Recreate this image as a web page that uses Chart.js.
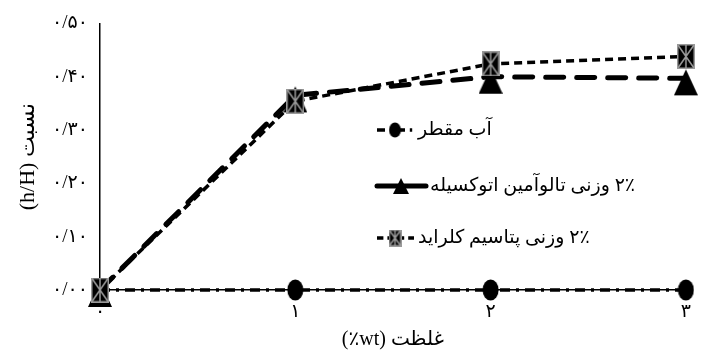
<!DOCTYPE html>
<html>
<head>
<meta charset="utf-8">
<script src="https://cdn.jsdelivr.net/npm/chart.js@4.4.1/dist/chart.umd.min.js"></script>
<style>
  html, body { margin: 0; padding: 0; background: #fff; }
</style>
</head>
<body>
<canvas id="chart" width="702" height="358"></canvas>
<script>
const xLabels = ['۰', '۱', '۲', '۳']
const yTickLabels = ['۰/۰۰', '۰/۱۰', '۰/۲۰', '۰/۳۰', '۰/۴۰', '۰/۵۰']
const seriesNames = ['آب مقطر', '۲٪ وزنی تالوآمین اتوکسیله', '۲٪ وزنی پتاسیم کلراید']
const waterValues = [0, 0, 0, 0]
const tallowValues = [0, 0.365, 0.400, 0.397]
const kclValues = [0, 0.354, 0.424, 0.438]
const yTitle = 'نسبت (h/H)'
const xTitle = 'غلظت (wt٪)'

const family = "'Liberation Serif', 'DejaVu Sans', serif"
const rtl = s => '\u202B' + s + '\u202C'

const makeMarker = (w, h, draw) => {
  const c = document.createElement('canvas')
  c.width = w
  c.height = h
  draw(c.getContext('2d'), w, h)
  return c
}

const drawEllipse = (ctx, w, h) => {
  ctx.fillStyle = '#000'
  ctx.beginPath()
  ctx.ellipse(w / 2, h / 2, w / 2 - 0.5, h / 2 - 0.5, 0, 0, Math.PI * 2)
  ctx.fill()
}
const drawBox = (ctx, w, h) => {
  ctx.fillStyle = '#000'
  ctx.fillRect(0, 0, w, h)
  ctx.strokeStyle = '#9a9a9a'
  ctx.lineWidth = 1.5
  ctx.strokeRect(0.75, 0.75, w - 1.5, h - 1.5)
  ctx.beginPath()
  ctx.moveTo(1, 1); ctx.lineTo(w - 1, h - 1)
  ctx.moveTo(w - 1, 1); ctx.lineTo(1, h - 1)
  ctx.moveTo(w / 2, 1); ctx.lineTo(w / 2, h - 1)
  ctx.stroke()
}

const ellipseMark = makeMarker(17, 22, drawEllipse)
// triangle sits a bit below its point, like the reference
const triangleMark = makeMarker(24, 36, (ctx, w, h) => {
  ctx.fillStyle = '#000'
  ctx.beginPath()
  ctx.moveTo(w / 2, 9)
  ctx.lineTo(w, 35)
  ctx.lineTo(0, 35)
  ctx.closePath()
  ctx.fill()
})
const boxMark = makeMarker(18, 25, drawBox)

// smaller copies for the legend
const legendMarks = [
  makeMarker(13, 16, drawEllipse),
  makeMarker(16, 16, (ctx, w, h) => {
    ctx.fillStyle = '#000'
    ctx.beginPath()
    ctx.moveTo(w / 2, 0)
    ctx.lineTo(w, h)
    ctx.lineTo(0, h)
    ctx.closePath()
    ctx.fill()
  }),
  makeMarker(13, 17, drawBox),
]

// legend drawn inside the plot, symbol on the left, RTL text
const legendRows = [130, 186, 238]
const legendInside = {
  id: 'legendInside',
  afterDraw(chart) {
    const ctx = chart.ctx
    const rowToDataset = [2, 1, 0]
    rowToDataset.forEach((di, row) => {
      const ds = chart.data.datasets[di]
      const y = legendRows[row]
      ctx.save()
      ctx.strokeStyle = '#000'
      ctx.lineWidth = ds.borderWidth
      ctx.lineCap = ds.borderCapStyle || 'butt'
      ctx.setLineDash(row === 1 ? [] : ds.borderDash.map(d => d * 0.8))
      ctx.beginPath()
      ctx.moveTo(377, y)
      ctx.lineTo(row === 1 ? 426 : 414, y)
      ctx.stroke()
      const m = legendMarks[row]
      ctx.drawImage(m, (row === 1 ? 401 : 395) - m.width / 2, y - m.height / 2)
      ctx.fillStyle = '#000'
      ctx.font = '19px ' + family
      ctx.direction = 'rtl'
      ctx.textAlign = 'left'
      ctx.textBaseline = 'middle'
      ctx.fillText(ds.label, row === 1 ? 430 : 418, y)
      ctx.restore()
    })
  },
}

new Chart(document.getElementById('chart'), {
  type: 'line',
  data: {
    labels: xLabels,
    datasets: [
      {
        label: seriesNames[2],
        data: kclValues,
        borderColor: '#000',
        borderWidth: 3.5,
        borderDash: [8, 5],
        pointStyle: boxMark,
        pointRadius: 10,
        fill: false,
        clip: false,
      },
      {
        label: seriesNames[1],
        data: tallowValues,
        borderColor: '#000',
        borderWidth: 5,
        borderDash: [18, 13],
        borderCapStyle: 'round',
        pointStyle: triangleMark,
        pointRadius: 10,
        fill: false,
        clip: false,
      },
      {
        label: seriesNames[0],
        data: waterValues,
        borderColor: '#000',
        borderWidth: 3.5,
        borderDash: [10, 6, 3, 6],
        pointStyle: ellipseMark,
        pointRadius: 10,
        fill: false,
        clip: false,
      },
    ],
  },
  options: {
    responsive: false,
    devicePixelRatio: 1,
    animation: false,
    layout: { padding: { top: 22, right: 12, left: 0, bottom: 0 } },
    plugins: {
      legend: { display: false },
      tooltip: { enabled: false },
    },
    scales: {
      x: {
        type: 'category',
        offset: false,
        grid: { display: false, drawTicks: false },
        border: { color: '#000', width: 1.5 },
        ticks: { color: '#000', font: { size: 19, family }, padding: 11, maxRotation: 0 },
        title: {
          display: true,
          text: rtl(xTitle),
          color: '#000',
          font: { size: 20, family },
          padding: { top: 0, bottom: 6 },
        },
        afterFit: s => { s.height = 68 },
      },
      y: {
        min: 0,
        max: 0.5,
        grid: { display: false, drawTicks: false },
        border: { color: '#000', width: 1.5 },
        ticks: {
          stepSize: 0.1,
          color: '#000',
          font: { size: 19, family },
          padding: 12,
          callback: (v, i) => yTickLabels[i],
        },
        title: {
          display: true,
          text: rtl(yTitle),
          color: '#000',
          font: { size: 22, family },
          padding: { top: 15, bottom: 0 },
        },
        afterFit: s => { s.width = 100 },
      },
    },
  },
  plugins: [legendInside],
})
</script>
</body>
</html>
